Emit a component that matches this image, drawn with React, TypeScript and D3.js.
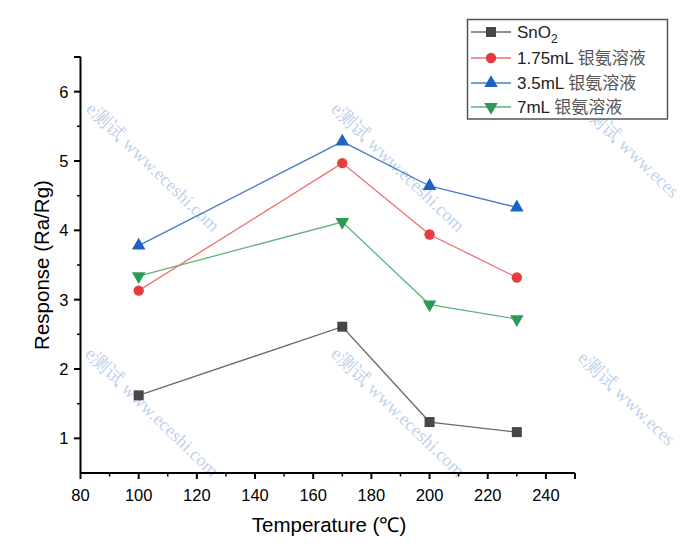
import React from 'react';
import * as d3 from 'd3';

const temperatures = [100, 170, 200, 230];
const sno2 = [1.62, 2.61, 1.235, 1.09];
const ag175 = [3.13, 4.97, 3.94, 3.32];
const ag35 = [3.78, 5.28, 4.64, 4.33];
const ag7 = [3.34, 4.12, 2.93, 2.72];

const xTicks = [80, 100, 120, 140, 160, 180, 200, 220, 240];
const yTicks = [1, 2, 3, 4, 5, 6];

const seriesNames = ['SnO2', '1.75mL', '3.5mL', '7mL'];
const suffix = '银氨溶液';

const W = 688;
const H = 548;
const margin = { left: 80.5, right: 113, top: 57, bottom: 75 };

const x = d3.scaleLinear().domain([80, 250]).range([margin.left, W - margin.right]);
const y = d3.scaleLinear().domain([0.5, 6.5]).range([H - margin.bottom, margin.top]);

const series = [
  { name: seriesNames[0], values: sno2, marker: 'square', fill: '#474747', line: '#6a6a6a' },
  { name: seriesNames[1], values: ag175, marker: 'circle', fill: '#e63b3f', line: '#ee7070' },
  { name: seriesNames[2], values: ag35, marker: 'up', fill: '#1d63c6', line: '#4a7cc4' },
  { name: seriesNames[3], values: ag7, marker: 'down', fill: '#2e9a57', line: '#62b27f' },
];

const symbolFor = (m: string) => {
  if (m === 'square') return d3.symbol(d3.symbolSquare, 100)();
  if (m === 'circle') return d3.symbol(d3.symbolCircle, 85)();
  return d3.symbol(d3.symbolTriangle, 80)();
};

const Marker = ({ kind, fill, cx, cy }: { kind: string; fill: string; cx: number; cy: number }) => (
  <path
    d={symbolFor(kind) || ''}
    fill={fill}
    transform={`translate(${cx},${cy})${kind === 'down' ? ' rotate(180)' : ''}`}
  />
);

// watermark: the right column is cut off by the picture edge in the original
const watermarkFull = 'e测试 www.eceshi.com';
const watermarkCut = 'e测试 www.eces';
const watermarks: [number, number, string][] = [
  [88, 107, watermarkFull], [333, 107, watermarkFull], [584, 108, watermarkCut],
  [87, 352, watermarkFull], [333, 352, watermarkFull], [580, 356, watermarkCut],
];

export default function App() {
  const line = d3.line<number>().x((_, i) => x(temperatures[i])).y(d => y(d));
  const xMinor = d3.range(90, 251, 20);
  const yMinor = d3.range(1.5, 6.6, 1);
  const font = '"Liberation Sans", Arial, sans-serif';
  const legendRows = [32, 58, 83, 107];

  return (
    <svg width={W} height={H} style={{ position: 'absolute', left: 0, top: 0, background: '#fff' }}>
      {/* watermark */}
      <g fill="#a9c2e6" fillOpacity={0.75} fontFamily='"Liberation Serif", serif' fontSize={18.5}>
        {watermarks.map(([wx, wy, t], i) => (
          <text key={i} transform={`translate(${wx},${wy}) rotate(44)`} dominantBaseline="middle">
            {t}
          </text>
        ))}
      </g>

      {/* series */}
      {series.map(s => (
        <g key={s.name}>
          <path d={line(s.values) || ''} fill="none" stroke={s.line} strokeWidth={1.3} />
          {s.values.map((v, i) => (
            <Marker key={i} kind={s.marker} fill={s.fill} cx={x(temperatures[i])} cy={y(v)} />
          ))}
        </g>
      ))}

      {/* axes */}
      <g stroke="#000" strokeWidth={2}>
        <line x1={margin.left} x2={margin.left} y1={margin.top} y2={y(0.5)} />
        <line x1={margin.left} x2={W - margin.right} y1={y(0.5)} y2={y(0.5)} />
        {xTicks.map(t => (
          <line key={t} x1={x(t)} x2={x(t)} y1={y(0.5)} y2={y(0.5) + 6} />
        ))}
        {xMinor.map(t => (
          <line key={t} x1={x(t)} x2={x(t)} y1={y(0.5)} y2={y(0.5) + 3.5} strokeWidth={1.5} />
        ))}
        <line x1={x(250)} x2={x(250)} y1={y(0.5)} y2={y(0.5) + 6} />
        {yTicks.map(t => (
          <line key={t} x1={margin.left - 6.5} x2={margin.left} y1={y(t)} y2={y(t)} />
        ))}
        {yMinor.map(t => (
          <line key={t} x1={margin.left - 3.5} x2={margin.left} y1={y(t)} y2={y(t)} strokeWidth={1.5} />
        ))}
        <line x1={margin.left - 6.5} x2={margin.left} y1={y(6.5)} y2={y(6.5)} />
      </g>
      <g fontFamily={font} fontSize={16.5} fill="#000">
        {xTicks.map(t => (
          <text key={t} x={x(t)} y={y(0.5) + 28} textAnchor="middle">{t}</text>
        ))}
        {yTicks.map(t => (
          <text key={t} x={margin.left - 12} y={y(t) + 6} textAnchor="end">{t}</text>
        ))}
      </g>
      <text x={329} y={532} textAnchor="middle" fontFamily={font} fontSize={20.5}>
        Temperature (℃)
      </text>
      <text transform="translate(49,265) rotate(-90)" textAnchor="middle" fontFamily={font} fontSize={20.5}>
        Response (Ra/Rg)
      </text>

      {/* legend */}
      <rect x={467.5} y={19.5} width={200} height={99.5} fill="#fff" stroke="#555" strokeWidth={1.5} />
      {series.map((s, i) => (
        <g key={s.name}>
          <line x1={471} x2={511} y1={legendRows[i]} y2={legendRows[i]} stroke={s.line} strokeWidth={1.3} />
          <Marker kind={s.marker} fill={s.fill} cx={491} cy={legendRows[i]} />
          <text x={517} y={legendRows[i] + 6} fontFamily={font} fontSize={17} fill="#222">
            {i === 0 ? (
              <>
                SnO<tspan fontSize={12} dy={5}>2</tspan>
              </>
            ) : (
              <>
                {s.name}{' '}
                <tspan fontFamily='"Noto Sans CJK SC", sans-serif' fill="#555" fontSize={17}>{suffix}</tspan>
              </>
            )}
          </text>
        </g>
      ))}
    </svg>
  );
}
